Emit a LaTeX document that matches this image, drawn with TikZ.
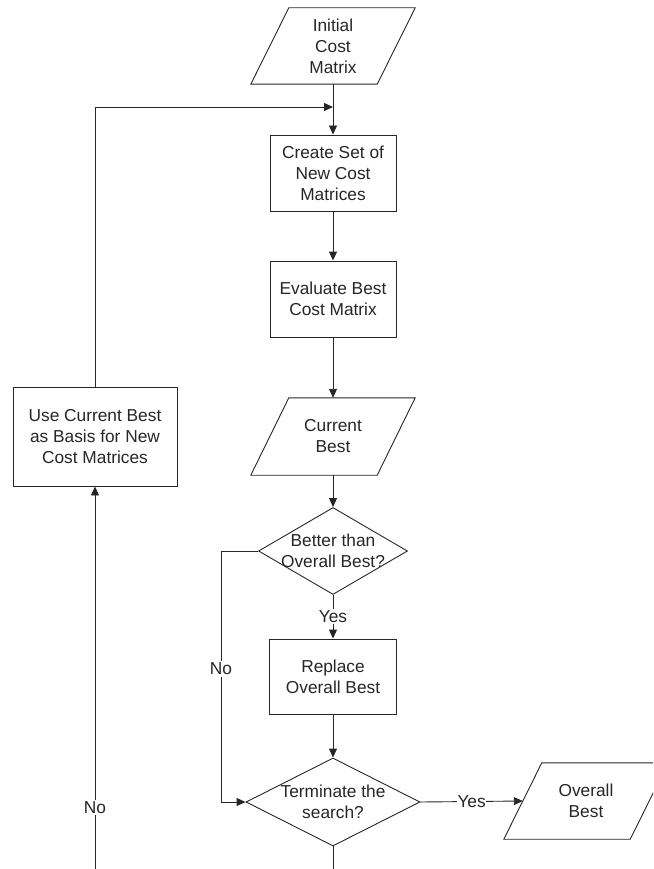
\documentclass[tikz,border=0pt]{standalone}
\usepackage{fontspec}
\setmainfont{Liberation Sans}
\usetikzlibrary{arrows.meta,shapes.geometric}
\definecolor{ln}{gray}{0.15}
\tikzset{
  every node/.style={font=\fontsize{17.3}{21}\selectfont, text=black!85, align=center},
  procbox/.style={draw=ln, line width=0.9pt, rectangle, inner sep=0pt},
  iobox/.style={draw=none, rectangle, inner sep=0pt, minimum width=126pt},
  decbox/.style={draw=ln, line width=0.9pt, diamond, inner sep=0pt},
  arr/.style={draw=ln, line width=0.9pt, -{Triangle[length=9pt,width=8pt]}},
  ln/.style={draw=ln, line width=0.9pt},
  lbl/.style={fill=white, inner sep=1.5pt}
}
\begin{document}
\begin{tikzpicture}[x=1pt,y=-1pt]
\useasboundingbox (0,0) rectangle (653,869);
\clip (0,0) rectangle (653,869);
% nodes
\node[iobox, minimum height=76pt] (init) at (333,46) {Initial\\Cost\\Matrix};
\node[procbox, minimum width=126pt, minimum height=76pt] (create) at (333,173) {Create Set of\\New Cost\\Matrices};
\node[procbox, minimum width=126pt, minimum height=76pt] (eval) at (333,299) {Evaluate Best\\Cost Matrix};
\node[iobox, minimum height=77pt] (cur) at (333,436.5) {Current\\Best};
\node[decbox, minimum width=149pt, minimum height=87pt,
      label={[align=center]center:Better than\\Overall Best?}] (better) at (333,551) {};
\node[procbox, minimum width=127pt, minimum height=75pt] (repl) at (333,676.5) {Replace\\Overall Best};
\node[decbox, minimum width=174pt, minimum height=88pt,
      label={[align=center]center:Terminate the\\search?}] (term) at (333,802) {};
\node[iobox, minimum height=76pt] (over) at (586,801) {Overall\\Best};
\node[procbox, minimum width=164pt, minimum height=99pt] (use) at (95,436.5) {Use Current Best\\as Basis for New\\Cost Matrices};
% parallelogram outlines
\foreach \n in {init,cur,over}{
  \draw[ln] ([xshift=19pt]\n.north west) -- ([xshift=19pt]\n.north east)
    -- ([xshift=-19pt]\n.south east) -- ([xshift=-19pt]\n.south west) -- cycle;
}
% coordinates
\coordinate (join) at (333,107);
\coordinate (lefttop) at (95,107);
\coordinate (bl) at (95,869);
\coordinate (bc) at (333,869);
\coordinate (nb) at (221,551);
\coordinate (nt) at (221,802);
% connectors
\draw[arr] (init.south) -- (create.north);
\draw[arr] (use.north) -- (lefttop) -- (join);
\draw[arr] (create.south) -- (eval.north);
\draw[arr] (eval.south) -- (cur.north);
\draw[arr] (cur.south) -- (better.north);
\draw[arr] (better.south) -- node[lbl, pos=0.5] {Yes} (repl.north);
\draw[arr] (better.west) -- (nb) -- node[lbl, pos=0.47] {No} (nt) -- (term.west);
\draw[arr] (repl.south) -- (term.north);
\draw[arr] (term.east) -- node[lbl, pos=0.5, inner sep=0.5pt] {Yes} (over.west);
\draw[ln] (term.south) -- (bc);
\draw[arr] (bl) -- node[lbl, pos=0.16] {No} (use.south);
\end{tikzpicture}
\end{document}
